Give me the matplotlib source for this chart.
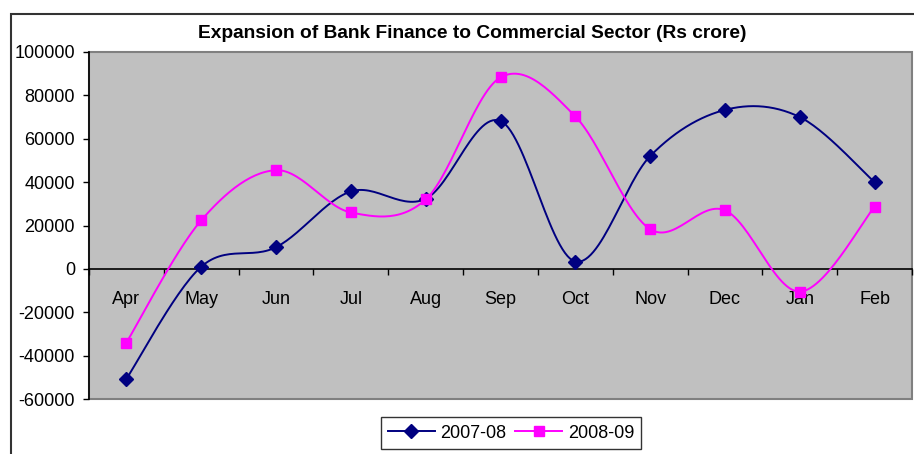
import numpy as np
import matplotlib
matplotlib.use("Agg")
import matplotlib.pyplot as plt
from matplotlib.patches import Rectangle
from matplotlib.lines import Line2D

months = ["Apr", "May", "Jun", "Jul", "Aug", "Sep", "Oct", "Nov", "Dec", "Jan", "Feb"]
s2007 = [-50700, 1000, 10000, 35700, 32300, 68200, 3400, 52000, 73300, 70000, 40000]
s2008 = [-34000, 22400, 45500, 26000, 32000, 88300, 70300, 18300, 27000, -10500, 28600]
yticks = [-60000, -40000, -20000, 0, 20000, 40000, 60000, 80000, 100000]

plt.rcParams['font.family'] = ['Liberation Sans', 'DejaVu Sans']

W, H = 914, 454
fig = plt.figure(figsize=(W / 100, H / 100), dpi=100)

# outer chart border
fig.patches.append(Rectangle((11 / W, -0.1), 2.0, (H - 14) / H + 0.1,
                             transform=fig.transFigure, fill=False,
                             edgecolor='#333333', linewidth=1.5))

ax = fig.add_axes([89 / W, (H - 399) / H, (912 - 89) / W, (399 - 52) / H])
ax.set_facecolor('#C0C0C0')


def smooth(xs, ys, n=30):
    P = np.column_stack([xs, ys]).astype(float)
    P = np.vstack([P[0], P, P[-1]])
    out = []
    for i in range(1, len(P) - 2):
        p0, p1, p2, p3 = P[i - 1], P[i], P[i + 1], P[i + 2]
        c1 = p1 + (p2 - p0) / 6.0
        c2 = p2 - (p3 - p1) / 6.0
        t = np.linspace(0, 1, n)[:, None]
        seg = ((1 - t) ** 3) * p1 + 3 * ((1 - t) ** 2) * t * c1 + 3 * (1 - t) * t ** 2 * c2 + t ** 3 * p2
        out.append(seg if i == 1 else seg[1:])
    out = np.vstack(out)
    return out[:, 0], out[:, 1]


x = np.arange(len(months))
for data, col, mk, ms, lab in [(s2007, '#000080', 'D', 7.5, '2007-08'),
                               (s2008, '#FF00FF', 's', 7.5, '2008-09')]:
    sx, sy = smooth(x, data)
    ax.plot(sx, sy, color=col, lw=1.4, zorder=3)
    ax.plot(x, data, linestyle='none', marker=mk, color=col, ms=ms, zorder=4)

ax.set_xlim(-0.5, len(months) - 0.5)
ax.set_ylim(-60000, 100000)

for s in ['top', 'right']:
    ax.spines[s].set_visible(False)
ax.spines['left'].set_color('black')
ax.spines['left'].set_linewidth(1.2)
ax.spines['bottom'].set_position(('data', 0))
ax.spines['bottom'].set_color('black')
ax.spines['bottom'].set_linewidth(1.2)

ax.add_patch(Rectangle((0, 0), 1, 1, transform=ax.transAxes, fill=False,
                       edgecolor='#808080', linewidth=1.5, zorder=1, clip_on=False))

ax.set_yticks(yticks)
ax.set_yticklabels([str(v) for v in yticks], fontsize=13)
ax.tick_params(axis='y', direction='out', length=4, width=1, pad=6)

ax.set_xticks(x)
ax.set_xticklabels(months, fontsize=13)
ax.tick_params(axis='x', which='major', length=0, pad=16)
ax.set_xticks(np.arange(len(months) + 1) - 0.5, minor=True)
ax.tick_params(axis='x', which='minor', direction='out', length=4, width=1)

fig.text(472 / W, (H - 33) / H, "Expansion of Bank Finance to Commercial Sector (Rs crore)",
         ha='center', va='center', fontsize=13.8, fontweight='bold')

handles = [Line2D([], [], color='#000080', marker='D', ms=7, lw=1.4),
           Line2D([], [], color='#FF00FF', marker='s', ms=7, lw=1.4)]
leg = fig.legend(handles, ['2007-08', '2008-09'], loc='center',
                 bbox_to_anchor=(511 / W, (H - 433) / H), ncol=2, fontsize=13,
                 frameon=True, fancybox=False, shadow=False, handlelength=2.6,
                 columnspacing=0.5, handletextpad=0.3, borderpad=0.4)
leg.get_frame().set_edgecolor('black')
leg.get_frame().set_linewidth(1.0)

fig.savefig("out.png", dpi=100)
